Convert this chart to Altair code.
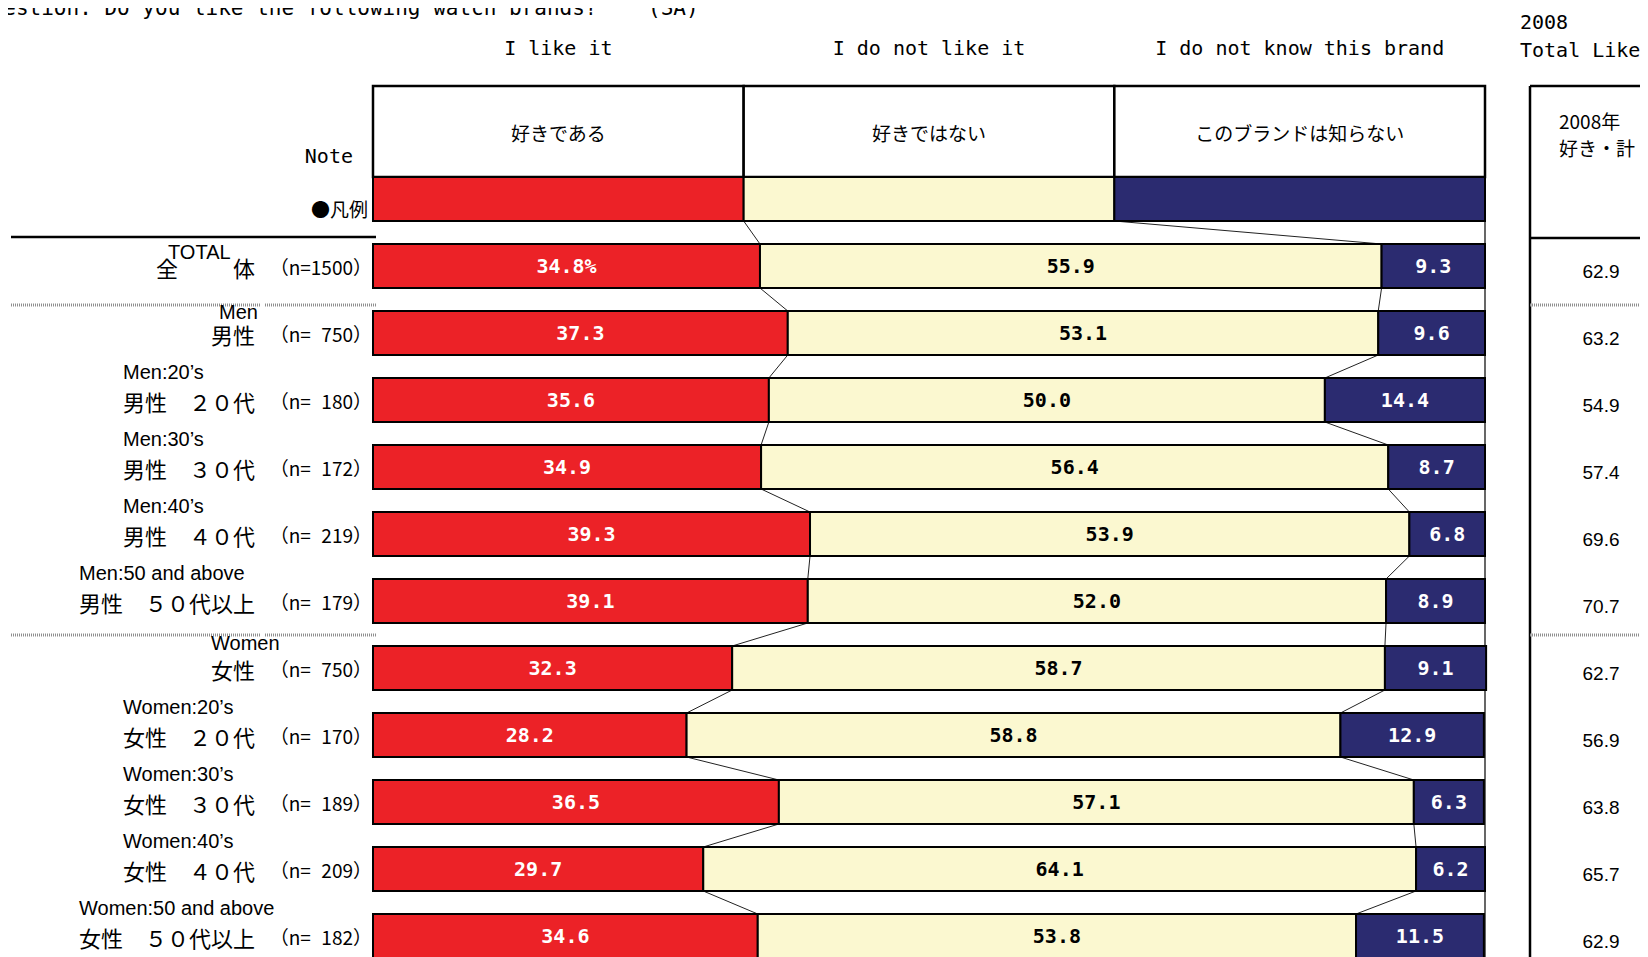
import altair as alt
import pandas as pd

# ---------------- data ----------------
groups_en = ["TOTAL", "Men", "Men:20’s", "Men:30’s", "Men:40’s", "Men:50 and above",
             "Women", "Women:20’s", "Women:30’s", "Women:40’s", "Women:50 and above"]
groups_jp = ["全　　\u2002体", "男性", "男性　２０代", "男性　３０代", "男性　４０代", "男性　５０代以上",
             "女性", "女性　２０代", "女性　３０代", "女性　４０代", "女性　５０代以上"]
sample_n = [1500, 750, 180, 172, 219, 179, 750, 170, 189, 209, 182]
like = [34.8, 37.3, 35.6, 34.9, 39.3, 39.1, 32.3, 28.2, 36.5, 29.7, 34.6]
dislike = [55.9, 53.1, 50.0, 56.4, 53.9, 52.0, 58.7, 58.8, 57.1, 64.1, 53.8]
unknown = [9.3, 9.6, 14.4, 8.7, 6.8, 8.9, 9.1, 12.9, 6.3, 6.2, 11.5]
total_likes_2008 = [62.9, 63.2, 54.9, 57.4, 69.6, 70.7, 62.7, 56.9, 63.8, 65.7, 62.9]
answers_en = ["I like it", "I do not like it", "I do not know this brand"]
answers_jp = ["好きである", "好きではない", "このブランドは知らない"]
title_text = "Question: Do you like the following watch brands?\u00a0\u00a0\u00a0\u00a0(SA)"

# ---------------- layout / style ----------------
W, H = 1632, 949
X_LEFT, X_RIGHT = 365, 1477
ROW0, STEP = 191, 67
BAR_H = 44
HB = BAR_H / 2 / STEP
HEAD_TOP = 78
SEG_COLORS = ["#EC2227", "#FBF8D0", "#2B2B70"]
MONO = "DejaVu Sans Mono"
JP = "Noto Sans CJK JP"
SANS = "Liberation Sans"
JP_CHAR = 22
JP_RIGHT = 247
EN_DY_SPECIAL = {"TOTAL": -13, "Men": -20, "Women": -24}
EN_DX_SPECIAL = {"TOTAL": 12, "Men": 8}
EN_DY_DEFAULT = -27


def px_x(p):
    return (p - X_LEFT) / (X_RIGHT - X_LEFT) * 100.0


def px_y(p):
    return (p - ROW0) / STEP


def jp_width(s):
    return sum(JP_CHAR / 2 if ch == "\u2002" else JP_CHAR for ch in s)


xs = alt.Scale(domain=[0, 100], range=[X_LEFT, X_RIGHT], nice=False, zero=False)
ys = alt.Scale(domain=[0, 11], range=[ROW0, ROW0 + 11 * STEP], nice=False, zero=False)


def X(f):
    return alt.X(f, scale=xs, axis=None)


def Y(f):
    return alt.Y(f, scale=ys, axis=None)


# ---------------- tables ----------------
legend_cuts = [0, 100 / 3, 200 / 3, 100]
bar_rows, lab_rows, cuts = [], [], [legend_cuts]
for k in range(3):
    bar_rows.append(dict(idx=0, x0=legend_cuts[k], x1=legend_cuts[k + 1], seg=answers_en[k]))
for i in range(len(like)):
    c = [0, like[i], like[i] + dislike[i], like[i] + dislike[i] + unknown[i]]
    cuts.append(c)
    vals = [like[i], dislike[i], unknown[i]]
    for k in range(3):
        bar_rows.append(dict(idx=i + 1, x0=c[k], x1=c[k + 1], seg=answers_en[k]))
        txt = f"{vals[k]:.1f}" + ("%" if (i == 0 and k == 0) else "")
        lab_rows.append(dict(idx=i + 1, mid=(c[k] + c[k + 1]) / 2, txt=txt,
                             dark=(k == 1)))
bars = pd.DataFrame(bar_rows)
bars["y0"] = bars["idx"] - HB
bars["y1"] = bars["idx"] + HB
labs = pd.DataFrame(lab_rows)

conn_rows = []
for r in range(len(cuts) - 1):
    for k in (1, 2):
        conn_rows.append(dict(x=cuts[r][k], x2=cuts[r + 1][k],
                              y=r + HB, y2=r + 1 - HB))
conns = pd.DataFrame(conn_rows)

groups = pd.DataFrame(dict(idx=list(range(1, 12)), jp=groups_jp, en=groups_en,
                           n=["（n=" + str(v).rjust(4, "\u2007") + "）" for v in sample_n],
                           tot=[f"{v:.1f}" for v in total_likes_2008]))
groups["en_x"] = [px_x(JP_RIGHT - jp_width(j) + EN_DX_SPECIAL.get(e, 0))
                  for j, e in zip(groups_jp, groups_en)]
groups["en_y"] = [i + EN_DY_SPECIAL.get(e, EN_DY_DEFAULT) / STEP
                  for i, e in zip(groups["idx"], groups_en)]

header = pd.DataFrame(dict(x0=legend_cuts[:3], x1=legend_cuts[1:], jp=answers_jp, en=answers_en,
                           y0=[px_y(HEAD_TOP)] * 3, y1=[-HB] * 3))
header["mid"] = (header["x0"] + header["x1"]) / 2

solid = pd.DataFrame([
    dict(x=px_x(3), x2=px_x(368), y=px_y(229), y2=px_y(229)),
    dict(x=px_x(1522), x2=px_x(1645), y=px_y(230), y2=px_y(230)),
    dict(x=px_x(1522), x2=px_x(1522), y=px_y(HEAD_TOP), y2=px_y(952)),
    dict(x=px_x(1522), x2=px_x(1645), y=px_y(HEAD_TOP), y2=px_y(HEAD_TOP)),
])
thin = pd.DataFrame([dict(x=100, x2=100, y=-HB, y2=px_y(952))])
grey_rows = []
for py in (297, 627):
    for a, b in ((3, 252), (257, 368), (1522, 1645)):
        grey_rows.append(dict(x=px_x(a), x2=px_x(b), y=px_y(py), y2=px_y(py)))
grey = pd.DataFrame(grey_rows)

one = pd.DataFrame({"a": [0]})


def fixed_text(txt, x, y, font, size, align="left"):
    return (alt.Chart(one)
            .mark_text(align=align, baseline="middle", font=font, fontSize=size,
                       color="black", text=txt)
            .encode(x=alt.value(x), y=alt.value(y)))


# ---------------- layers ----------------
layers = [
    fixed_text(title_text, -30, 1, MONO, 21),
    alt.Chart(header).mark_text(baseline="middle", font=MONO, fontSize=20, color="black")
    .encode(x=X("mid:Q"), y=alt.value(41), text="en:N"),
    alt.Chart(header).mark_rect(fill="white", stroke="black", strokeWidth=2.5)
    .encode(x=X("x0:Q"), x2="x1:Q", y=Y("y0:Q"), y2="y1:Q"),
    alt.Chart(header).mark_text(baseline="middle", font=JP, fontSize=19, color="black")
    .encode(x=X("mid:Q"), y=alt.value(127), text="jp:N"),
    fixed_text("2008", 1512, 15, MONO, 20),
    fixed_text("Total Likes", 1512, 43, MONO, 20),
    fixed_text("2008年", 1551, 115, JP, 19),
    fixed_text("好き・計", 1551, 142, JP, 19),
    fixed_text("Note", 345, 149, MONO, 20, "right"),
    fixed_text("●凡例", 360, 203, JP, 19, "right"),
    # separators
    alt.Chart(solid).mark_rule(color="black", strokeWidth=2.5)
    .encode(x=X("x:Q"), x2="x2:Q", y=Y("y:Q"), y2="y2:Q"),
    alt.Chart(thin).mark_rule(color="black", strokeWidth=1.2)
    .encode(x=X("x:Q"), x2="x2:Q", y=Y("y:Q"), y2="y2:Q"),
    alt.Chart(grey).mark_rule(color="#8f8f8f", strokeWidth=3, strokeDash=[1, 1])
    .encode(x=X("x:Q"), x2="x2:Q", y=Y("y:Q"), y2="y2:Q"),
    # connectors and bars
    alt.Chart(conns).mark_rule(color="#222222", strokeWidth=1)
    .encode(x=X("x:Q"), x2="x2:Q", y=Y("y:Q"), y2="y2:Q"),
    alt.Chart(bars).mark_rect(stroke="black", strokeWidth=2)
    .encode(x=X("x0:Q"), x2="x1:Q", y=Y("y0:Q"), y2="y1:Q",
            fill=alt.Fill("seg:N", scale=alt.Scale(domain=answers_en, range=SEG_COLORS),
                          legend=None)),
    alt.Chart(labs[~labs["dark"]]).mark_text(baseline="middle", font=MONO, fontSize=20,
                                             fontWeight="bold", color="white", dy=1)
    .encode(x=X("mid:Q"), y=Y("idx:Q"), text="txt:N"),
    alt.Chart(labs[labs["dark"]]).mark_text(baseline="middle", font=MONO, fontSize=20,
                                            fontWeight="bold", color="black", dy=1)
    .encode(x=X("mid:Q"), y=Y("idx:Q"), text="txt:N"),
    # left labels
    alt.Chart(groups).mark_text(align="right", baseline="middle", font=JP, fontSize=22,
                                color="black", dy=4)
    .encode(x=alt.value(JP_RIGHT), y=Y("idx:Q"), text="jp:N"),
    alt.Chart(groups).mark_text(align="right", baseline="middle", font=JP, fontSize=19,
                                color="black", dy=3)
    .encode(x=alt.value(364), y=Y("idx:Q"), text="n:N"),
    alt.Chart(groups).mark_text(align="left", baseline="middle", font=SANS, fontSize=20,
                                color="black")
    .encode(x=X("en_x:Q"), y=Y("en_y:Q"), text="en:N"),
    # right column
    alt.Chart(groups).mark_text(align="center", baseline="middle", font=SANS, fontSize=19,
                                color="black", dy=6)
    .encode(x=alt.value(1593), y=Y("idx:Q"), text="tot:N"),
]

chart = (alt.layer(*layers)
         .properties(width=W, height=H, padding=0, autosize=alt.AutoSizeParams(type="none"))
         .configure_view(stroke=None))

chart.save("out.html", embed_options={"renderer": "svg", "actions": False})
